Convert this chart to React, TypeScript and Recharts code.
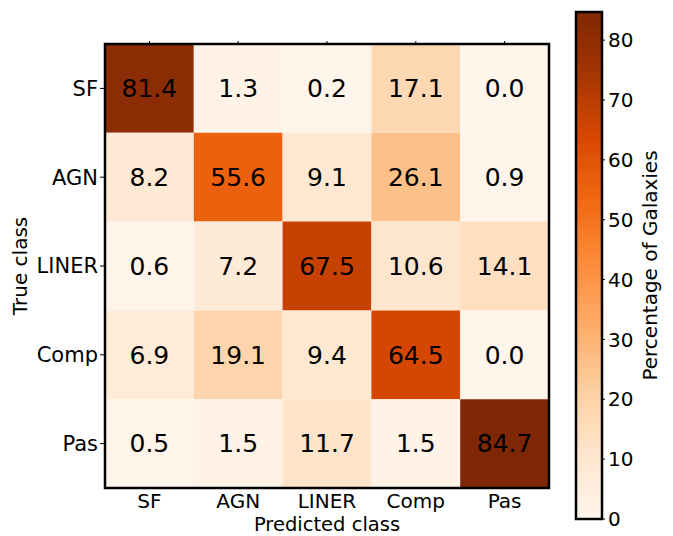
import React from 'react';
import { ScatterChart, Scatter, XAxis, YAxis, ReferenceArea, Label } from 'recharts';

// class names, row = true class, column = predicted class
const CLASSES = ['SF', 'AGN', 'LINER', 'Comp', 'Pas'];

const ROW_SF = [81.4, 1.3, 0.2, 17.1, 0.0];
const ROW_AGN = [8.2, 55.6, 9.1, 26.1, 0.9];
const ROW_LINER = [0.6, 7.2, 67.5, 10.6, 14.1];
const ROW_COMP = [6.9, 19.1, 9.4, 64.5, 0.0];
const ROW_PAS = [0.5, 1.5, 11.7, 1.5, 84.7];

const CBAR_TICKS = [0, 10, 20, 30, 40, 50, 60, 70, 80];
const VMAX = 84.7;

// matplotlib "Oranges"
const ORANGES = ['#fff5eb', '#fee6ce', '#fdd0a2', '#fdae6b', '#fd8d3c', '#f16913', '#d94801', '#a63603', '#7f2704'];

const MATRIX = [ROW_SF, ROW_AGN, ROW_LINER, ROW_COMP, ROW_PAS];
const cells = MATRIX.flatMap((row, r) => row.map((v, c) => ({ x: c, y: r, v })));
const cbarPoints = CBAR_TICKS.map((t) => ({ x: 0.5, y: t }));

function hex(c: string) {
  return [1, 3, 5].map((i) => parseInt(c.slice(i, i + 2), 16));
}

function orange(v: number) {
  const t = Math.max(0, Math.min(1, v / VMAX)) * (ORANGES.length - 1);
  const i = Math.min(Math.floor(t), ORANGES.length - 2);
  const f = t - i;
  const a = hex(ORANGES[i]);
  const b = hex(ORANGES[i + 1]);
  const m = a.map((x, k) => Math.round(x + (b[k] - x) * f));
  return `rgb(${m[0]},${m[1]},${m[2]})`;
}

const FONT = "'DejaVu Sans', sans-serif";

export default function App() {
  return (
    <div style={{ position: 'absolute', left: 0, top: 0, width: 673, height: 536, background: '#fff', fontFamily: FONT }}>
      <div style={{ position: 'absolute', left: 0, top: 0 }}>
        <ScatterChart width={673} height={536} margin={{ top: 34, right: 124, bottom: 18, left: 45 }}>
          <XAxis
            type="number"
            dataKey="x"
            domain={[-0.5, 4.5]}
            ticks={[0, 1, 2, 3, 4]}
            tickFormatter={(i: number) => CLASSES[i]}
            height={30}
            stroke="#000"
            axisLine={false}
            tickLine={false}
            tickSize={3}
            tickMargin={3}
            tick={{ fill: '#000', fontSize: 20 }}
            allowDataOverflow
          >
            <Label
              content={({ viewBox }: any) => (
                <text x={viewBox.x + viewBox.width / 2} y={531} textAnchor="middle" fontSize={19.5} fill="#000">
                  Predicted class
                </text>
              )}
            />
          </XAxis>
          <XAxis
            xAxisId="top"
            orientation="top"
            type="number"
            dataKey="x"
            domain={[-0.5, 4.5]}
            ticks={[0, 1, 2, 3, 4]}
            tickFormatter={() => ''}
            height={10}
            stroke="#000"
            axisLine={false}
            tickSize={3}
            allowDataOverflow
          />
          <YAxis
            type="number"
            dataKey="y"
            domain={[-0.5, 4.5]}
            reversed
            ticks={[0, 1, 2, 3, 4]}
            tickFormatter={(i: number) => CLASSES[i]}
            width={60}
            stroke="#000"
            axisLine={false}
            tickSize={5}
            tickMargin={2}
            tick={{ fill: '#000', fontSize: 21 }}
            allowDataOverflow
          >
            <Label
              content={({ viewBox }: any) => {
                const cy = viewBox.y + viewBox.height / 2;
                return (
                  <text x={20} y={cy} transform={`rotate(-90 20 ${cy})`} textAnchor="middle" dominantBaseline="central" fontSize={20} fill="#000">
                    True class
                  </text>
                );
              }}
            />
          </YAxis>
          {cells.map((d) => (
            <ReferenceArea
              key={`${d.x}-${d.y}`}
              x1={d.x - 0.5}
              x2={d.x + 0.5}
              y1={d.y - 0.5}
              y2={d.y + 0.5}
              fill={orange(d.v)}
              fillOpacity={1}
              stroke="none"
              label={{ value: d.v.toFixed(1), position: 'center', fontSize: 25, fill: '#000' }}
            />
          ))}
          <ReferenceArea x1={-0.5} x2={4.5} y1={-0.5} y2={4.5} fill="none" stroke="#000" strokeWidth={2.5} />
          <Scatter data={cells} shape={() => <g />} isAnimationActive={false} />
        </ScatterChart>
      </div>
      <div style={{ position: 'absolute', left: 560, top: 0 }}>
        <ScatterChart width={113} height={536} margin={{ top: 12, right: 0, bottom: 17, left: 16 }}>
          <defs>
            <linearGradient id="cbar" x1="0" y1="1" x2="0" y2="0">
              {ORANGES.map((c, i) => (
                <stop key={c} offset={i / (ORANGES.length - 1)} stopColor={c} />
              ))}
            </linearGradient>
          </defs>
          <XAxis type="number" dataKey="x" domain={[0, 1]} hide />
          <YAxis
            type="number"
            dataKey="y"
            orientation="right"
            domain={[0, VMAX]}
            ticks={CBAR_TICKS}
            width={71}
            stroke="#000"
            axisLine={false}
            tickSize={3}
            tickMargin={3}
            tick={{ fill: '#000', fontSize: 20 }}
            allowDataOverflow
          >
            <Label
              content={({ viewBox }: any) => {
                const cy = viewBox.y + viewBox.height / 2;
                const cx = 90;
                return (
                  <text x={cx} y={cy} transform={`rotate(-90 ${cx} ${cy})`} textAnchor="middle" dominantBaseline="central" fontSize={20} fill="#000">
                    Percentage of Galaxies
                  </text>
                );
              }}
            />
          </YAxis>
          <ReferenceArea y1={0} y2={VMAX} fill="url(#cbar)" fillOpacity={1} stroke="#000" strokeWidth={2.5} />
          <Scatter data={cbarPoints} shape={() => <g />} isAnimationActive={false} />
        </ScatterChart>
      </div>
    </div>
  );
}
